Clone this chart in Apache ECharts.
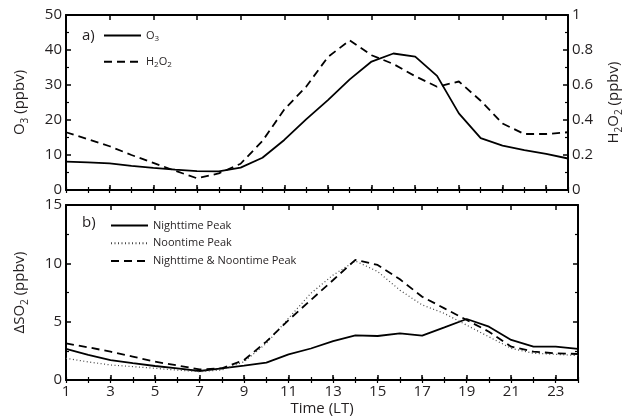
<!DOCTYPE html>
<html><head><meta charset="utf-8">
<script src="https://cdn.jsdelivr.net/npm/echarts@6/dist/echarts.min.js"></script>
<style>html,body{margin:0;padding:0;background:#fff}#c{width:632px;height:420px}</style>
</head><body><div id="c"></div>
<script>
// ---- data ----
const hours = [1,2,3,4,5,6,7,8,9,10,11,12,13,14,15,16,17,18,19,20,21,22,23,24];
const o3 = [8.1,7.9,7.6,6.9,6.3,5.8,5.4,5.3,6.4,9.2,14.3,20.2,25.7,31.6,36.7,39.0,38.1,32.6,21.9,14.8,12.7,11.4,10.3,9.0];
const h2o2 = [0.33,0.29,0.25,0.20,0.155,0.11,0.067,0.095,0.15,0.28,0.46,0.59,0.76,0.855,0.77,0.72,0.65,0.59,0.62,0.51,0.38,0.32,0.32,0.33];
const nightPeak = [2.66,2.15,1.71,1.45,1.2,1.0,0.77,1.0,1.23,1.49,2.2,2.7,3.34,3.83,3.77,4.0,3.8,4.51,5.23,4.57,3.43,2.86,2.86,2.66];
const noonPeak = [1.86,1.55,1.29,1.15,1.0,0.85,0.71,0.86,1.57,3.14,5.3,7.43,9.0,10.2,9.3,7.7,6.43,5.7,4.7,3.7,2.71,2.29,2.2,2.09];
const bothPeak = [3.14,2.8,2.43,2.0,1.57,1.25,0.91,1.0,1.71,3.29,5.14,6.86,8.57,10.3,9.86,8.63,7.14,6.14,5.14,4.14,2.86,2.43,2.29,2.23];
const seriesNamesA = ['O3','H2O2'];
const seriesNamesB = ['Nighttime Peak','Noontime Peak','Nighttime & Noontime Peak'];

// ---- styling ----
const FONT = 'Open Sans';
const TXT = '#231f20';
const FS = 15;
const subRich = {sub:{fontSize:8, fontFamily:FONT, color:TXT, padding:[7,0,0,0]}};
const subRichBig = {sub:{fontSize:10, fontFamily:FONT, color:TXT, padding:[10,0,0,0]}};

function pairs(v){ return hours.map((h,i)=>[h, v[i]]); }

function xAxes(gi, showLabels){
  const base = {gridIndex:gi, type:'value', min:1, max:24, splitLine:{show:false}};
  return [
    Object.assign({}, base, {interval:2, position:'bottom',
      axisLine:{show:true, onZero:false, lineStyle:{color:'#000', width:2}},
      axisTick:{show:true, inside:true, length:5, lineStyle:{color:'#000', width:1.5}},
      axisLabel:{show:showLabels, showMaxLabel:false, color:TXT, fontSize:FS, fontFamily:FONT, margin:4},
      name: showLabels ? 'Time (LT)' : '', nameLocation:'middle', nameGap:21,
      nameTextStyle:{color:TXT, fontSize:FS, fontFamily:FONT}}),
    Object.assign({}, base, {interval:1, position:'bottom',
      axisLine:{show:false}, axisTick:{show:true, inside:true, length:3, lineStyle:{color:'#000', width:1.2}},
      axisLabel:{show:false}}),
    Object.assign({}, base, {interval:2, position:'top',
      axisLine:{show:true, onZero:false, lineStyle:{color:'#000', width:2}},
      axisTick:{show:true, inside:true, length:5, lineStyle:{color:'#000', width:1.5}},
      axisLabel:{show:false}}),
    Object.assign({}, base, {interval:1, position:'top',
      axisLine:{show:false}, axisTick:{show:true, inside:true, length:3, lineStyle:{color:'#000', width:1.2}},
      axisLabel:{show:false}})
  ];
}

function yAxis(gi, pos, min, max, interval, showLabels, name, rich, gap){
  return {gridIndex:gi, type:'value', position:pos, min:min, max:max, interval:interval,
    splitLine:{show:false},
    axisLine:{show:true, onZero:false, lineStyle:{color:'#000', width:2}},
    axisTick:{show:true, inside:true, length:5, lineStyle:{color:'#000', width:1.5}},
    minorTick:{show:true, splitNumber:2, length:3, lineStyle:{color:'#000', width:1.2}},
    axisLabel:{show:showLabels, color:TXT, fontSize:FS, fontFamily:FONT, margin:4},
    name:name, nameLocation:'middle', nameGap:gap, nameRotate:90,
    nameTextStyle:{color:TXT, fontSize:FS, fontFamily:FONT, rich:rich}};
}

const legendRich = subRich;
const legendFmt = n => ({'O3':'O{sub|3}','H2O2':'H{sub|2}O{sub|2}'}[n] || n);

const option = {
  animation:false,
  backgroundColor:'#fff',
  textStyle:{fontFamily:FONT},
  grid:[
    {left:66, top:15, width:512, height:175},
    {left:66, top:205, width:512, height:175}
  ],
  xAxis: xAxes(0,false).concat(xAxes(1,true)),
  yAxis: [
    yAxis(0,'left',0,50,10,true,'O{sub|3} (ppbv)',subRichBig,36),
    yAxis(0,'right',0,1,0.2,true,'H{sub|2}O{sub|2} (ppbv)',subRichBig,36),
    yAxis(1,'left',0,15,5,true,'ΔSO{sub|2} (ppbv)',subRichBig,36),
    yAxis(1,'right',0,15,5,false,'',subRichBig,30)
  ],
  legend:[
    {data:seriesNamesA, orient:'vertical', left:103, top:30, padding:0, itemWidth:37, itemHeight:14, itemGap:13,
     itemStyle:{opacity:0},
     formatter:legendFmt, textStyle:{color:TXT, fontSize:11, fontFamily:FONT, rich:legendRich}},
    {data:seriesNamesB, orient:'vertical', left:110, top:220, padding:0, itemWidth:37, itemHeight:14, itemGap:6.5,
     itemStyle:{opacity:0},
     formatter:legendFmt, textStyle:{color:TXT, fontSize:11, fontFamily:FONT, rich:legendRich}}
  ],
  graphic:[
    {type:'text', left:82, top:28, style:{text:'a)', fontSize:FS, fontFamily:FONT, fill:TXT}},
    {type:'text', left:82, top:215, style:{text:'b)', fontSize:FS, fontFamily:FONT, fill:TXT}}
  ],
  series:[
    {name:'O3', type:'line', xAxisIndex:0, yAxisIndex:0, data:pairs(o3), symbol:'none', showSymbol:false,
     lineStyle:{color:'#000', width:1.8, type:'solid'}, itemStyle:{color:'#000'}},
    {name:'H2O2', type:'line', xAxisIndex:0, yAxisIndex:1, data:pairs(h2o2), symbol:'none', showSymbol:false,
     lineStyle:{color:'#000', width:1.8, type:[8,5]}, itemStyle:{color:'#000'}},
    {name:'Nighttime Peak', type:'line', xAxisIndex:4, yAxisIndex:2, data:pairs(nightPeak), symbol:'none', showSymbol:false,
     lineStyle:{color:'#000', width:1.8, type:'solid'}, itemStyle:{color:'#000'}},
    {name:'Noontime Peak', type:'line', xAxisIndex:4, yAxisIndex:2, data:pairs(noonPeak), symbol:'none', showSymbol:false,
     lineStyle:{color:'#444', width:1.2, type:[1,2.5]}, itemStyle:{color:'#444'}},
    {name:'Nighttime & Noontime Peak', type:'line', xAxisIndex:4, yAxisIndex:2, data:pairs(bothPeak), symbol:'none', showSymbol:false,
     lineStyle:{color:'#000', width:1.8, type:[8,5]}, itemStyle:{color:'#000'}}
  ]
};
const chart = echarts.init(document.getElementById('c'), null, {renderer:'canvas'});
chart.setOption(option);
</script>
</body></html>
